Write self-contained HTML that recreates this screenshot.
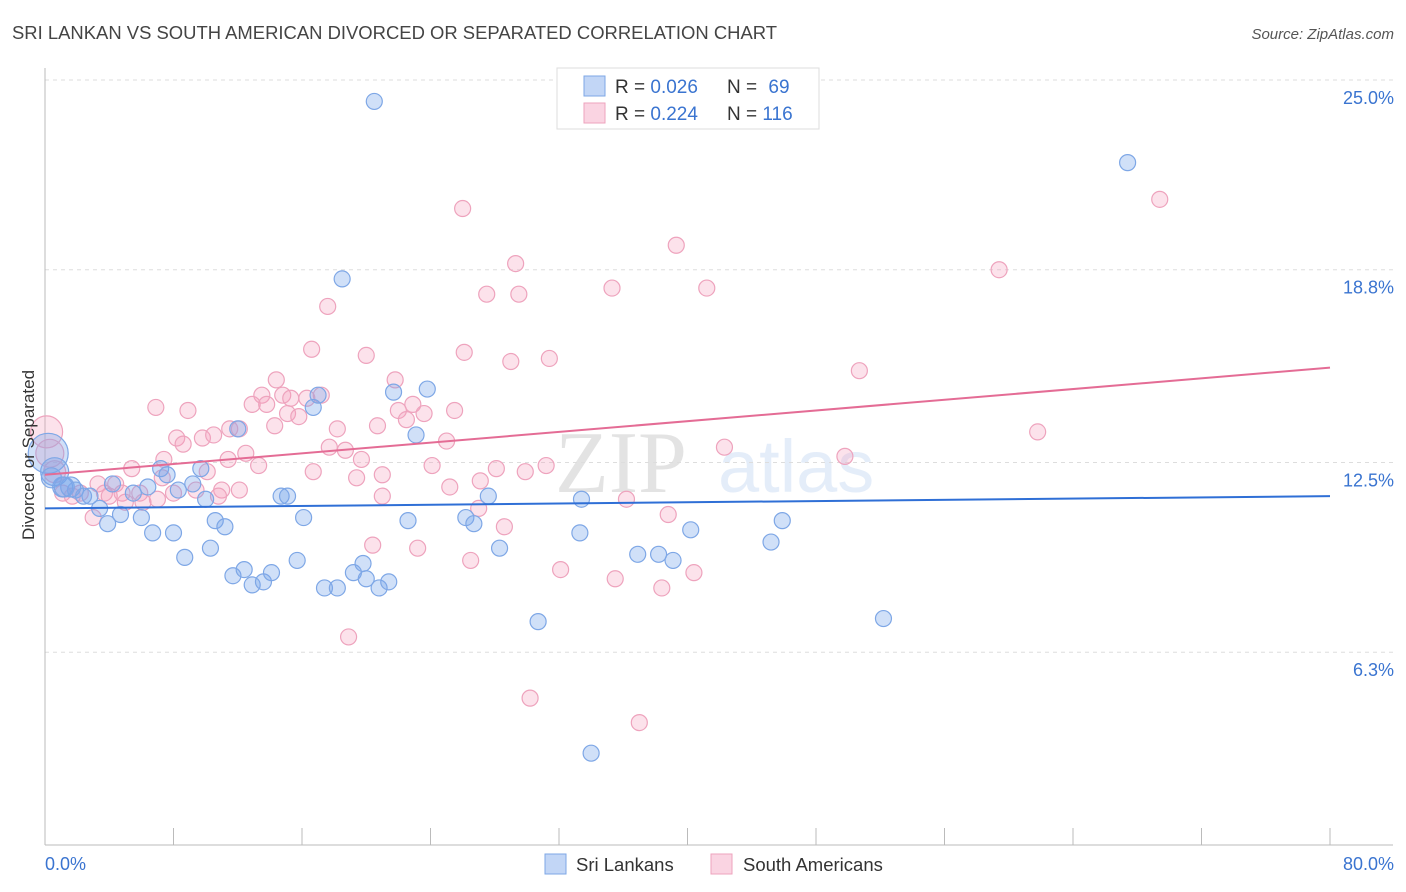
<!DOCTYPE html>
<html><head><meta charset="utf-8"><style>
body{margin:0;background:#fff;font-family:"Liberation Sans",sans-serif;}
svg{display:block}
</style></head><body>
<svg id="chart" width="1406" height="892">
<text x="12" y="39" font-size="18" fill="#444" textLength="765" lengthAdjust="spacingAndGlyphs">SRI LANKAN VS SOUTH AMERICAN DIVORCED OR SEPARATED CORRELATION CHART</text>
<text x="1394" y="39" font-size="15" fill="#555" font-style="italic" text-anchor="end">Source: ZipAtlas.com</text>
<g opacity="0.13">
<text x="555" y="492" font-size="88" font-family="Liberation Serif,serif" fill="#333">ZIP</text>
<text x="718" y="492" font-size="74" fill="#3a7bd5">atlas</text>
</g>
<g id="grid"></g>
<g id="axes"></g>
<g id="points"></g>
<g id="trends"></g>
<text transform="translate(34,455) rotate(-90)" font-size="17" fill="#333" text-anchor="middle" dy="0" x="0" y="0" style="transform:translate(28px,455px) rotate(-90deg)"><tspan dy="6">Divorced or Separated</tspan></text>
<g>
<rect x="557" y="68" width="262" height="61" fill="#fff" stroke="#ddd"/>
<rect x="584" y="76" width="21" height="20" fill="rgba(120,165,235,0.45)" stroke="#7ea7e6"/>
<rect x="584" y="103" width="21" height="20" fill="rgba(245,160,190,0.45)" stroke="#eea3bd"/>
<text x="615" y="93" font-size="19" fill="#333">R = <tspan fill="#3a74d0">0.026</tspan></text>
<text x="727" y="93" font-size="19" fill="#333">N = <tspan fill="#3a74d0" dx="6">69</tspan></text>
<text x="615" y="120" font-size="19" fill="#333">R = <tspan fill="#3a74d0">0.224</tspan></text>
<text x="727" y="120" font-size="19" fill="#333">N = <tspan fill="#3a74d0">116</tspan></text>
</g>
<g>
<rect x="545" y="854" width="21" height="20" fill="rgba(120,165,235,0.45)" stroke="#7ea7e6"/>
<text x="576" y="871" font-size="18.5" fill="#333">Sri Lankans</text>
<rect x="711" y="854" width="21" height="20" fill="rgba(245,160,190,0.45)" stroke="#eea3bd"/>
<text x="743" y="871" font-size="18.5" fill="#333">South Americans</text>
</g>
</svg>
<script>
const yTicks=[25.0,18.8,12.5,6.3];
const yTickLabels=["25.0%","18.8%","12.5%","6.3%"];
const xTickCount=10;
const xLabels=["0.0%","80.0%"];
const blueX=[20.5,67.4,18.5,21.7,23.8,16.7,17.0,12.0,23.1,9.7,7.2,7.6,9.2,8.3,6.4,4.2,5.5,2.8,3.4,4.7,6.0,3.9,6.7,8.0,10.6,11.2,10.0,14.7,15.1,16.1,22.6,26.2,26.7,27.6,33.4,33.3,28.3,8.7,10.3,15.7,11.7,12.4,12.9,13.6,14.1,17.4,18.2,19.2,19.8,20.0,20.8,21.4,30.7,34.0,36.9,38.2,39.1,40.2,45.2,45.9,52.2,0.2,0.6,1.1,1.6,1.9,2.4,1.2,0.4];
const blueY=[24.3,22.3,18.5,14.8,14.9,14.3,14.7,13.6,13.4,12.3,12.3,12.1,11.8,11.6,11.7,11.8,11.5,11.4,11.0,10.8,10.7,10.5,10.2,10.2,10.6,10.4,11.3,11.4,11.4,10.7,10.6,10.7,10.5,11.4,11.3,10.2,9.7,9.4,9.7,9.3,8.8,9.0,8.5,8.6,8.9,8.4,8.4,8.9,9.2,8.7,8.4,8.6,7.3,3.0,9.5,9.5,9.3,10.3,9.9,10.6,7.4,12.8,12.2,11.7,11.7,11.6,11.4,11.7,12.0];
const blueR=[8,8,8,8,8,8,8,8,8,8,8,8,8,8,8,8,8,8,8,8,8,8,8,8,8,8,8,8,8,8,8,8,8,8,8,8,8,8,8,8,8,8,8,8,8,8,8,8,8,8,8,8,8,8,8,8,8,8,8,8,8,20,14,10,10,8,8,10,10];
const pinkX=[26.0,69.4,39.3,29.3,27.5,29.5,35.3,41.2,59.4,17.6,16.6,20.0,26.1,29.0,31.4,50.7,14.4,21.8,13.5,14.8,15.3,17.2,16.3,12.9,13.8,15.1,15.8,6.9,8.9,20.7,22.0,22.5,22.9,23.6,25.5,18.2,11.5,12.1,14.3,8.2,8.6,9.8,10.5,17.7,18.7,25.0,61.8,42.3,49.8,7.4,12.5,11.4,13.3,10.1,16.7,19.7,21.0,19.4,24.1,28.1,27.1,29.9,31.2,5.4,4.4,3.3,3.7,4.8,5.9,8.0,9.4,11.0,12.1,10.8,6.1,5.0,2.2,3.0,25.2,21.0,36.2,38.8,27.0,28.6,20.4,23.2,26.5,32.1,35.5,40.4,38.4,18.9,30.2,37.0,0.1,0.3,0.6,1.1,1.7,4.0,7.0,7.3];
const pinkY=[20.8,21.1,19.6,19.0,18.0,18.0,18.2,18.2,18.8,17.6,16.2,16.0,16.1,15.8,15.9,15.5,15.2,15.2,14.7,14.7,14.6,14.7,14.6,14.4,14.4,14.1,14.0,14.3,14.2,13.7,14.2,13.9,14.4,14.1,14.2,13.6,13.6,13.6,13.7,13.3,13.1,13.3,13.4,13.0,12.9,13.2,13.5,13.0,12.7,12.6,12.8,12.6,12.4,12.2,12.2,12.6,12.1,12.0,12.4,12.3,11.9,12.2,12.4,12.3,11.8,11.8,11.5,11.5,11.5,11.5,11.6,11.6,11.6,11.4,11.2,11.2,11.5,10.7,11.7,11.4,11.3,10.8,11.0,10.4,9.8,9.7,9.3,9.0,8.7,8.9,8.4,6.8,4.8,4.0,13.5,12.8,12.2,11.5,11.4,11.4,11.3,12.0];
const pinkR=pinkX.map((_,i)=>i>=94&&i<=96?[16,14,11][i-94]:8);
const blueTrend=[11.0,11.4];
const pinkTrend=[12.1,15.6];
const xMin=0,xMax=80;
const NS="http://www.w3.org/2000/svg";
const L=45,R=1330,T=80,B=845;
function xs(v){return L+(v-xMin)/(xMax-xMin)*(R-L);}
function ys(v){return B-v/25*(B-T);}
function mk(tag,attrs,parent){const e=document.createElementNS(NS,tag);for(const k in attrs)e.setAttribute(k,attrs[k]);parent.appendChild(e);return e;}
const grid=document.getElementById('grid'),axes=document.getElementById('axes'),pts=document.getElementById('points'),tr=document.getElementById('trends');
yTicks.forEach((t,i)=>{
 const g=mk('line',{x1:L,x2:1393,y1:ys(t),y2:ys(t),stroke:'#ddd','stroke-dasharray':'4,4'},grid);
 
 
 const tx=mk('text',{x:1394,y:ys(t)+24,'font-size':18,fill:'#3a74d0','text-anchor':'end'},axes);
 tx.textContent=yTickLabels[i];
 
 
});
const ya=mk('line',{x1:L,x2:L,y1:68,y2:B,stroke:'#bbb'},axes);


const xa=mk('line',{x1:L,x2:1393,y1:B,y2:B,stroke:'#bbb'},axes);


for(let i=0;i<=xTickCount;i++){
 const v=xMin+i*(xMax-xMin)/xTickCount;
 const tk=mk('line',{x1:xs(v),x2:xs(v),y1:828,y2:B,stroke:'#bbb'},axes);
 
 
}
const xl0=mk('text',{x:45,y:870,'font-size':18,fill:'#3a74d0'},axes);xl0.textContent=xLabels[0];


const xl1=mk('text',{x:1394,y:870,'font-size':18,fill:'#3a74d0','text-anchor':'end'},axes);xl1.textContent=xLabels[1];


pinkX.forEach((x,i)=>{
 const c=mk('circle',{cx:xs(x),cy:ys(pinkY[i]),r:pinkR[i],fill:'rgba(245,160,190,0.3)',stroke:'#eea3bd','stroke-width':1.2},pts);
 
 
});
blueX.forEach((x,i)=>{
 const c=mk('circle',{cx:xs(x),cy:ys(blueY[i]),r:blueR[i],fill:'rgba(120,165,235,0.35)',stroke:'#7ea7e6','stroke-width':1.2},pts);
 
 
});
const bl=mk('line',{x1:xs(xMin),x2:xs(xMax),y1:ys(blueTrend[0]),y2:ys(blueTrend[1]),stroke:'#2f6fd6','stroke-width':2},tr);


const pl=mk('line',{x1:xs(xMin),x2:xs(xMax),y1:ys(pinkTrend[0]),y2:ys(pinkTrend[1]),stroke:'#e46c95','stroke-width':2},tr);


</script>
</body></html>
